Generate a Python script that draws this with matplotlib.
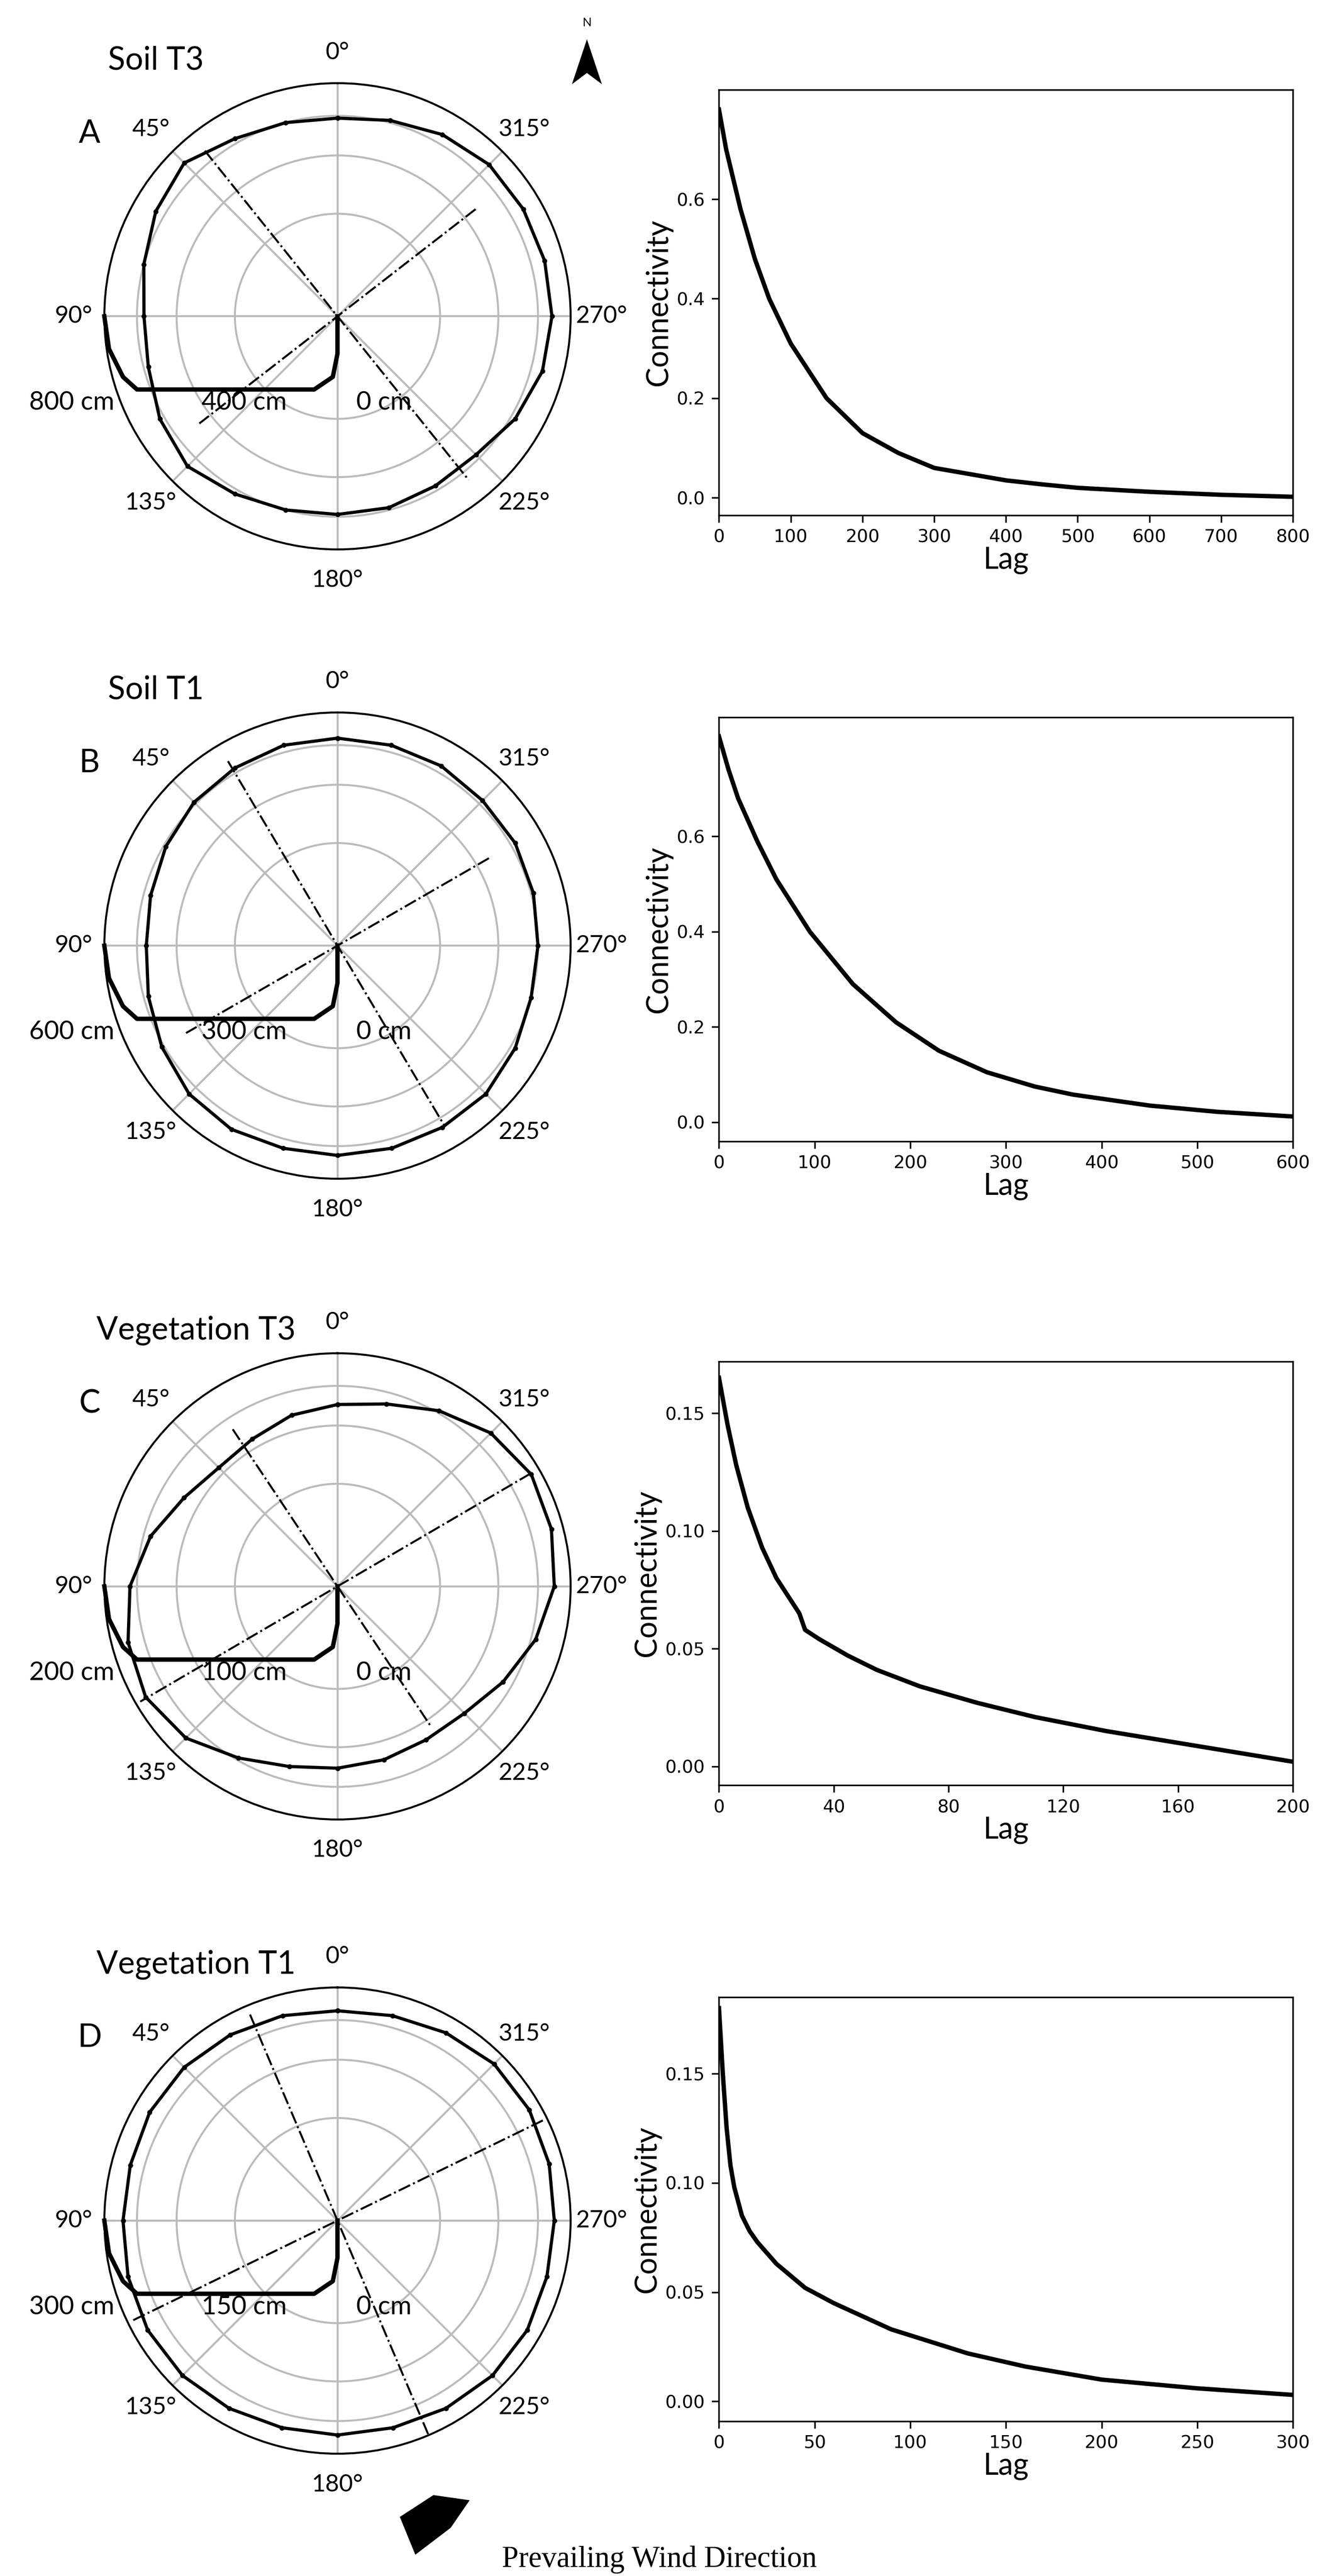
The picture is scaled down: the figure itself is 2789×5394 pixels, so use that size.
import numpy as np
import matplotlib.pyplot as plt
from matplotlib.patches import Polygon

# ---- data ----
titles = ["Soil T3", "Soil T1", "Vegetation T3", "Vegetation T1"]
letters = ["A", "B", "C", "D"]
scale_labels = [("800 cm", "400 cm"), ("600 cm", "300 cm"), ("200 cm", "100 cm"), ("300 cm", "150 cm")]

# boundary radius (fraction of max range) every 15 deg, counterclockwise from north
bound_angles = np.arange(0, 360, 15)
bound_A = [0.85, 0.86, 0.88, 0.93, 0.90, 0.86, 0.83, 0.84, 0.88, 0.91, 0.88, 0.86,
           0.85, 0.85, 0.84, 0.84, 0.88, 0.91, 0.92, 0.92, 0.92, 0.92, 0.90, 0.87]
bound_B = [0.89, 0.89, 0.88, 0.87, 0.85, 0.83, 0.82, 0.84, 0.87, 0.90, 0.91, 0.90,
           0.90, 0.90, 0.90, 0.90, 0.88, 0.86, 0.86, 0.87, 0.88, 0.88, 0.89, 0.89]
bound_C = [0.78, 0.76, 0.73, 0.72, 0.76, 0.83, 0.89, 0.93, 0.95, 0.92, 0.85, 0.80,
           0.78, 0.77, 0.76, 0.77, 0.82, 0.88, 0.93, 0.95, 0.96, 0.93, 0.87, 0.81]
bound_D = [0.90, 0.91, 0.92, 0.93, 0.93, 0.92, 0.92, 0.93, 0.94, 0.94, 0.93, 0.92,
           0.92, 0.92, 0.93, 0.94, 0.94, 0.93, 0.93, 0.94, 0.95, 0.95, 0.93, 0.91]
bounds = [bound_A, bound_B, bound_C, bound_D]

# anisotropy axes: (angle deg, length forward, length backward)
axes_major = [(38.7, 0.91, 0.90), (30.7, 0.92, 0.90), (33.7, 0.81, 0.72), (23.0, 0.96, 1.0)]
axes_minor = [(307.8, 0.75, 0.75), (300.0, 0.75, 0.75), (300.3, 0.96, 0.98), (296.0, 0.98, 0.98)]

# connectivity curves
lag_A = [0, 10, 30, 50, 70, 100, 150, 200, 250, 300, 400, 450, 500, 600, 700, 800]
con_A = [0.78, 0.70, 0.58, 0.48, 0.40, 0.31, 0.20, 0.13, 0.09, 0.06, 0.035, 0.027, 0.02, 0.012, 0.006, 0.002]
lag_B = [0, 10, 20, 40, 60, 95, 140, 185, 230, 280, 330, 370, 450, 520, 600]
con_B = [0.81, 0.74, 0.68, 0.59, 0.51, 0.40, 0.29, 0.21, 0.15, 0.105, 0.075, 0.058, 0.035, 0.022, 0.012]
lag_C = [0, 3, 6, 10, 15, 20, 28, 30, 35, 45, 55, 70, 90, 110, 135, 160, 180, 200]
con_C = [0.165, 0.145, 0.128, 0.11, 0.093, 0.08, 0.065, 0.058, 0.054, 0.047, 0.041, 0.034, 0.027, 0.021, 0.015, 0.01, 0.006, 0.002]
lag_D = [0, 2, 4, 6, 8, 12, 16, 20, 30, 45, 60, 90, 130, 160, 200, 250, 300]
con_D = [0.18, 0.15, 0.125, 0.108, 0.098, 0.085, 0.078, 0.073, 0.063, 0.052, 0.045, 0.033, 0.022, 0.016, 0.010, 0.006, 0.003]
lags = [lag_A, lag_B, lag_C, lag_D]
cons = [con_A, con_B, con_C, con_D]
xticks = [range(0, 801, 100), range(0, 601, 100), range(0, 201, 40), range(0, 301, 50)]
yticks = [[0, 0.2, 0.4, 0.6], [0, 0.2, 0.4, 0.6], [0, 0.05, 0.10, 0.15], [0, 0.05, 0.10, 0.15]]
ylims = [(-0.035, 0.82), (-0.04, 0.85), (-0.008, 0.172), (-0.009, 0.185)]

FONT = "Lato"
fig = plt.figure(figsize=(2789 / 300, 5394 / 300), dpi=300)

centers_y = [194, 580, 973, 1362]   # row centres in the 1580-px-high preview
right_y = [(55, 316), (440, 700), (835, 1095), (1225, 1485)]
H = 1580.0

for i in range(4):
    cy = 1 - centers_y[i] / H
    rx, ry = 143 / 817, 143 / H
    ax = fig.add_axes([207 / 817 - rx, cy - ry, 2 * rx, 2 * ry], projection="polar")
    ax.set_theta_zero_location("N")
    ax.set_theta_direction(1)
    ax.set_ylim(0, 1)
    ax.set_rgrids([0.44, 0.69, 0.86], labels=[])
    ax.set_thetagrids(range(0, 360, 45), labels=[f"{a}°" for a in range(0, 360, 45)],
                      fontsize=12, family=FONT)
    ax.tick_params(axis="x", pad=5)
    ax.grid(color="#bbbbbb", lw=1.0)
    ax.spines["polar"].set_linewidth(1.0)

    th = np.deg2rad(list(bound_angles) + [360])
    r = bounds[i] + [bounds[i][0]]
    ax.plot(th, r, color="black", lw=1.6, marker=".", markersize=3)

    for ang, lf, lb in (axes_major[i], axes_minor[i]):
        t = np.deg2rad(ang)
        ax.plot([t, t + np.pi], [lf, lb], color="black", lw=1.0, ls="-.")

    # scale bracket
    tr = ax.transAxes
    ax.plot([0.5, 0.5, 0.49, 0.45, 0.07, 0.04, 0.01, 0.0],
            [0.5, 0.42, 0.37, 0.343, 0.343, 0.37, 0.43, 0.5],
            transform=tr, color="black", lw=2.2, clip_on=False)
    far, mid = scale_labels[i]
    ax.text(-0.07, 0.315, far, transform=tr, ha="center", va="center", fontsize=13, family=FONT)
    ax.text(0.30, 0.315, mid, transform=tr, ha="center", va="center", fontsize=13, family=FONT)
    ax.text(0.60, 0.315, "0 cm", transform=tr, ha="center", va="center", fontsize=13, family=FONT)

    fig.text(112 / 817 - 0.02 + (0.03 if i >= 2 else 0), 1 - (centers_y[i] - 157) / H, titles[i],
             fontsize=16, family=FONT, ha="center", va="center")
    fig.text(55 / 817, 1 - (centers_y[i] - 112) / H, letters[i], fontsize=16, family=FONT,
             ha="center", va="center")

    y0, y1 = right_y[i]
    axr = fig.add_axes([441 / 817, 1 - y1 / H, (793 - 441) / 817, (y1 - y0) / H])
    axr.plot(lags[i], cons[i], color="black", lw=2.2)
    axr.set_xlim(0, xticks[i][-1])
    axr.set_ylim(*ylims[i])
    axr.set_xticks(list(xticks[i]))
    axr.set_yticks(yticks[i])
    if i >= 2:
        axr.set_yticklabels([f"{v:.2f}" for v in yticks[i]])
    axr.tick_params(labelsize=9)
    axr.set_xlabel("Lag", fontsize=15, family=FONT, labelpad=0)
    axr.set_ylabel("Connectivity", fontsize=15, family=FONT, labelpad=2)

# north arrow
fig.add_artist(Polygon([[360 / 817, 1 - 26 / H], [352 / 817, 1 - 50 / H], [360 / 817, 1 - 44 / H],
                        [368 / 817, 1 - 50 / H]], closed=True, color="black", transform=fig.transFigure))
fig.text(360 / 817, 1 - 14 / H, "N", fontsize=6, family=FONT, ha="center", va="center")

# wind arrow
fig.add_artist(Polygon([[246 / 817, 1 - 1544 / H], [266 / 817, 1 - 1531 / H], [287 / 817, 1 - 1534 / H],
                        [276 / 817, 1 - 1550 / H], [255 / 817, 1 - 1566 / H]], closed=True,
                       color="black", transform=fig.transFigure))
fig.text(308 / 817, 1 - 1570 / H, "Prevailing Wind Direction", fontsize=15,
         family="Liberation Serif", ha="left", va="center")

fig.savefig("out.png", dpi=300)
